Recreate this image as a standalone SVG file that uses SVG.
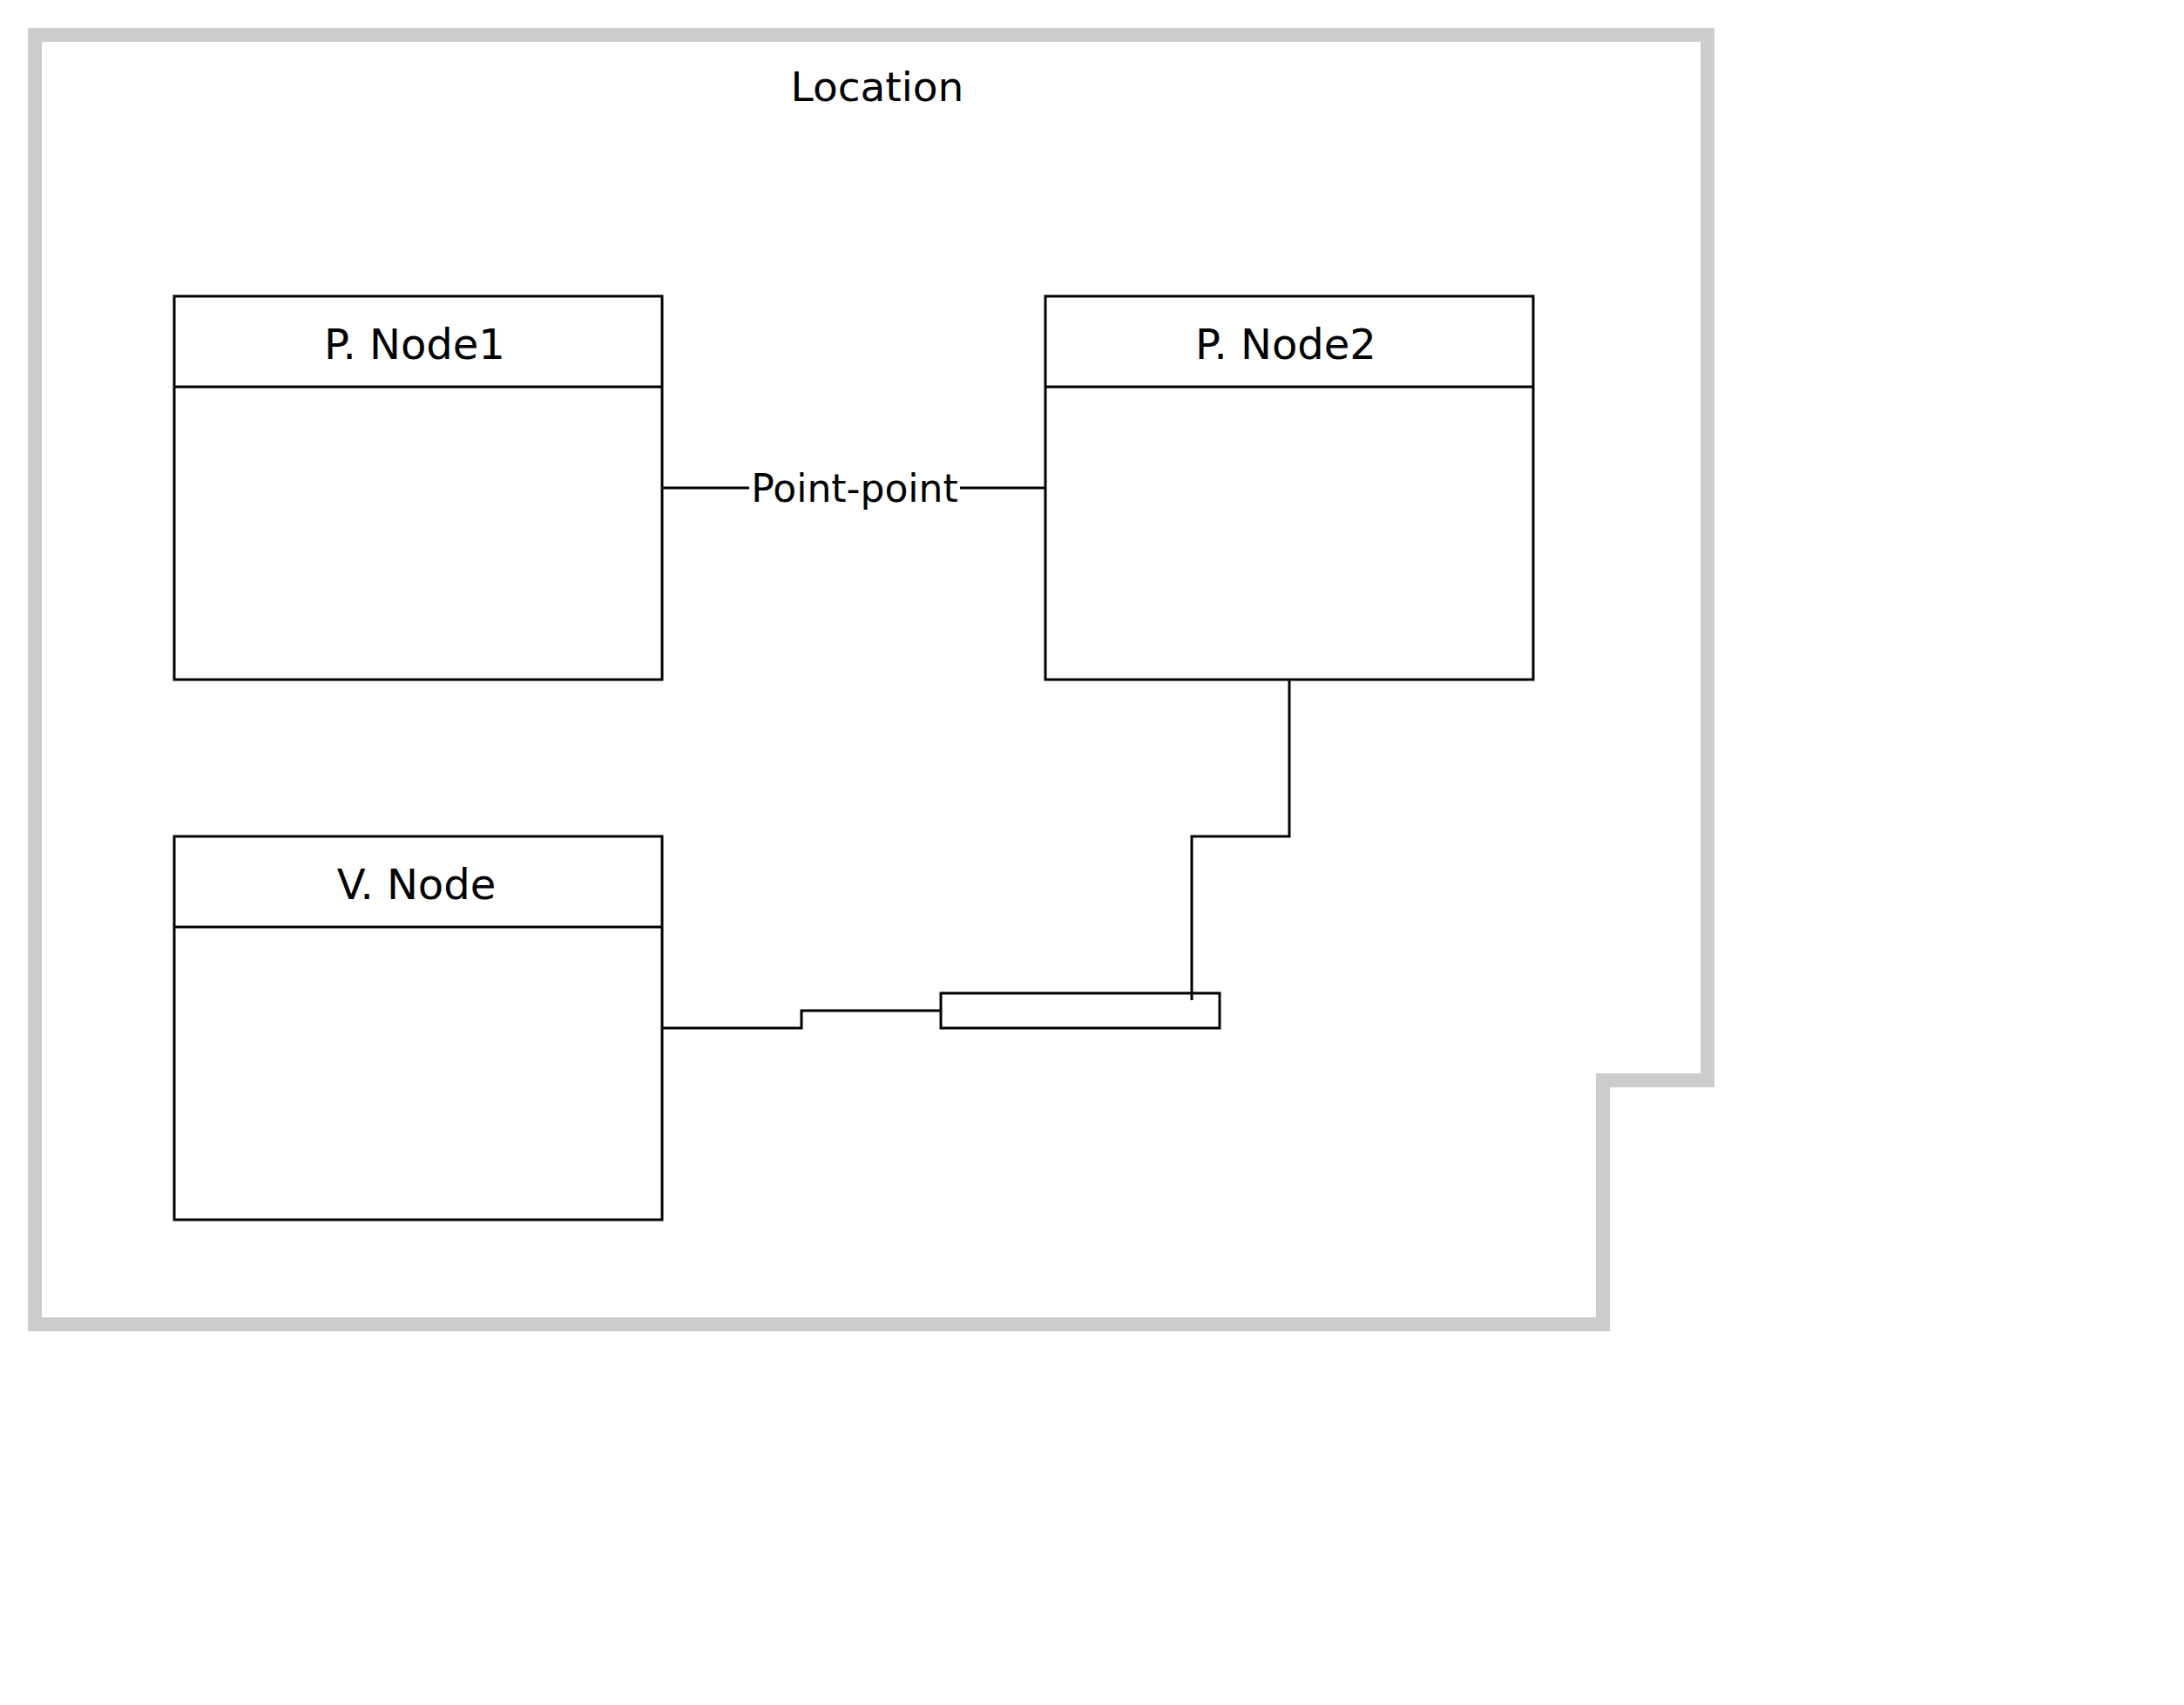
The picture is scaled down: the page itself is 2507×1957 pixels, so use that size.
<svg xmlns="http://www.w3.org/2000/svg" width="2507" height="1957" viewBox="0 0 2507 1957">
<style>
  .loc { fill: none; stroke: #cccccc; stroke-width: 16; stroke-linejoin: miter; }
  .box { fill: #ffffff; stroke: #000000; stroke-width: 3; }
  .ln { fill: none; stroke: #000000; stroke-width: 3; }
  .t { font-family: "DejaVu Sans", "Liberation Sans", sans-serif; font-size: 47px; fill: #000000; text-anchor: middle; }
  .nt { font-size: 48px; }
</style>
<rect width="2507" height="1957" fill="#ffffff"/>
<g id="location">
  <polygon class="loc" points="40,40 1960,40 1960,1240 1840,1240 1840,1520 40,1520"/>
  <text class="t" x="1007" y="116">Location</text>
</g>
<g id="pnode1">
  <rect class="box" x="200" y="340" width="560" height="440"/>
  <line class="ln" x1="200" y1="444" x2="760" y2="444"/>
  <text class="t nt" x="476" y="412">P. Node1</text>
</g>
<g id="pnode2">
  <rect class="box" x="1200" y="340" width="560" height="440"/>
  <line class="ln" x1="1200" y1="444" x2="1760" y2="444"/>
  <text class="t nt" x="1476" y="412">P. Node2</text>
</g>
<g id="vnode">
  <rect class="box" x="200" y="960" width="560" height="440"/>
  <line class="ln" x1="200" y1="1064" x2="760" y2="1064"/>
  <text class="t nt" x="478" y="1032">V. Node</text>
</g>
<g id="port">
  <rect class="box" x="1080" y="1140" width="320" height="40"/>
</g>
<g id="connectors">
  <line class="ln" x1="760" y1="560" x2="860" y2="560"/>
  <line class="ln" x1="1102" y1="560" x2="1200" y2="560"/>
  <text class="t" x="981" y="576" style="font-size:44px">Point-point</text>
  <path class="ln" d="M760,1180 H920 V1160 H1080"/>
  <path class="ln" d="M1480,780 V960 H1368 V1148"/>
</g>
</svg>
